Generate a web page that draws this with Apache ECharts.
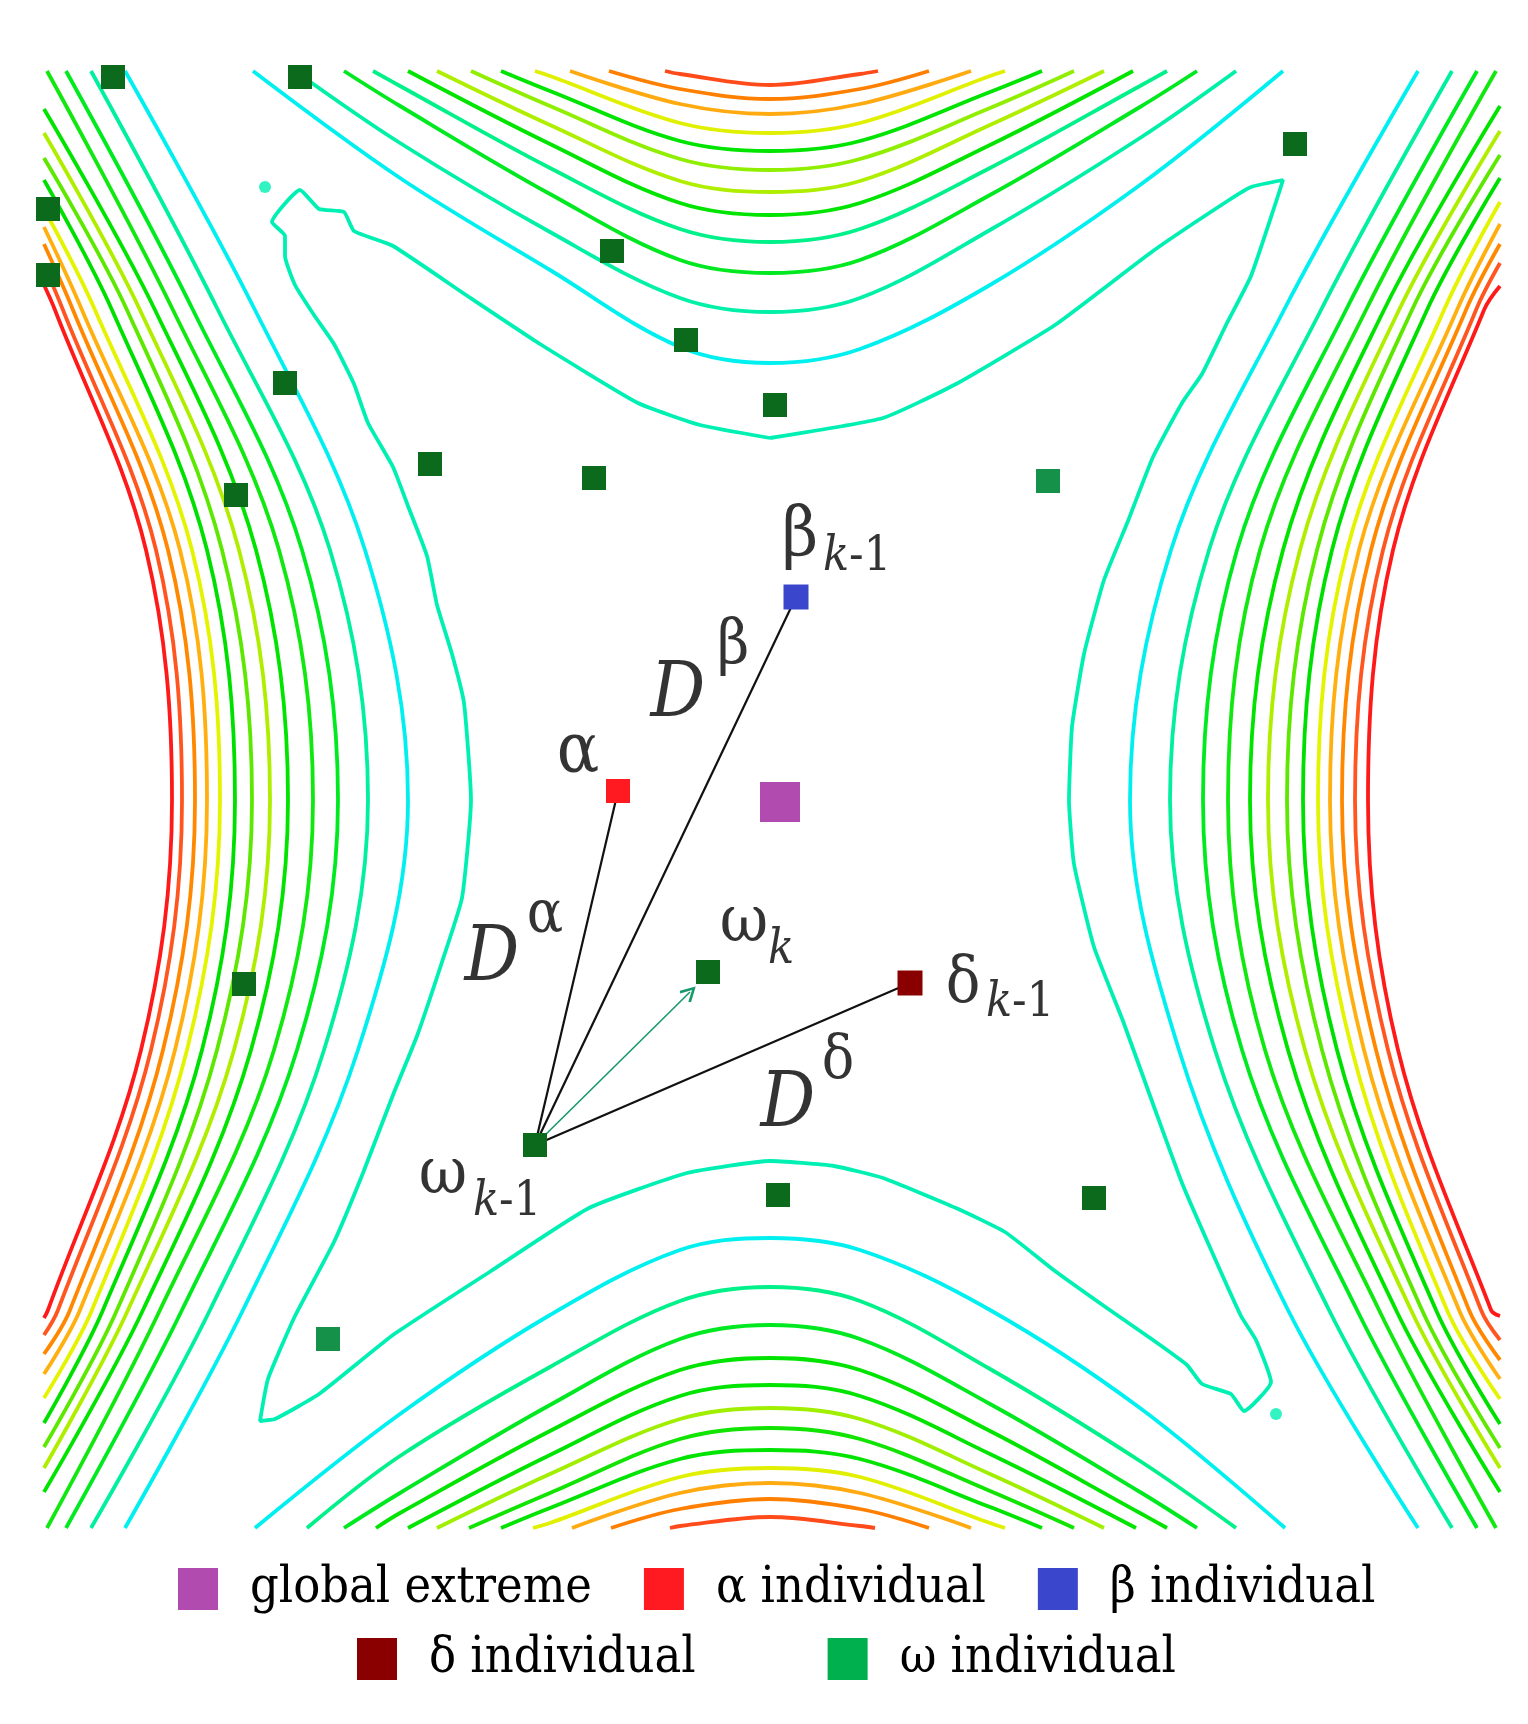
<!DOCTYPE html>
<html>
<head>
<meta charset="utf-8">
<title>Wolf positions on a saddle contour map</title>
<script src="https://cdn.jsdelivr.net/npm/echarts@6/dist/echarts.min.js"></script>
<style>
  html, body { margin: 0; padding: 0; background: #fff; }
  #chart { width: 1528px; height: 1724px; }
</style>
</head>
<body>
<div id="chart"></div>
<script>
// the picture has no axes, so positions are kept in image units
const X_MIN = 44, X_MAX = 1500, Y_MIN = 71, Y_MAX = 1528
const SERIF = 'DejaVu Serif Condensed, DejaVu Serif'

// ---- left / right contour families (outer red line first, cyan last) ----
// x of each line read at fixed heights
const sideHeights = [310, 550, 800, 1050, 1310]
const sideColors = ['#ff1a1a', '#ff5520', '#ff8800', '#ffb010', '#e4f400', '#00e000', '#5ce800',
  '#b0ee00', '#00e400', '#10e810', '#00ea20', '#00f0a0', '#00f0f0']

const leftAt310 = [55, 63, 73, 82, 95, 112, 127, 140, 155, 173, 193, 218, 255]
const leftAt550 = [146, 156, 168, 180, 192, 207, 222, 239, 256, 279, 302, 330, 365]
const leftAt800 = [172, 182, 195, 207, 220, 235, 252, 270, 288, 313, 338, 368, 408]
const leftAt1050 = [141, 151, 163, 175, 187, 202, 217, 234, 251, 274, 297, 324, 358]
const leftAt1310 = [48, 58, 70, 80, 92, 103, 117, 128, 143, 160, 182, 210, 243]
// where each line leaves the frame: through the side (y) or through top/bottom (x)
const leftTopExitY = [285, 265, 244, 227, 209, 180, 158, 133, 109, null, null, null, null]
const leftTopExitX = [null, null, null, null, null, null, null, null, null, 47, 66, 91, 125]
const leftBottomExitY = [1318, 1335, 1354, 1374, 1398, 1423, 1447, 1468, 1492, null, null, null, null]
const leftBottomExitX = [null, null, null, null, null, null, null, null, null, 47, 66, 91, 125]

const rightAt310 = [1484, 1476, 1466, 1457, 1444, 1427, 1412, 1399, 1384, 1366, 1346, 1321, 1284]
const rightAt550 = [1393, 1383, 1371, 1359, 1347, 1332, 1317, 1300, 1283, 1260, 1237, 1209, 1171]
const rightAt800 = [1368, 1355, 1342, 1330, 1318, 1303, 1287, 1268, 1250, 1228, 1203, 1170, 1130]
const rightAt1050 = [1398, 1388, 1376, 1364, 1352, 1337, 1322, 1305, 1288, 1265, 1242, 1215, 1179]
const rightAt1310 = [1491, 1481, 1469, 1459, 1447, 1436, 1422, 1411, 1396, 1379, 1357, 1329, 1288]
const rightTopExitY = [286, 263, 244, 224, 202, 178, 155, 131, 106, null, null, null, null]
const rightTopExitX = [null, null, null, null, null, null, null, null, null, 1496, 1477, 1452, 1418]
const rightBottomExitY = [1316, 1340, 1360, 1379, 1399, 1424, 1448, 1468, 1492, null, null, null, null]
const rightBottomExitX = [null, null, null, null, null, null, null, null, null, 1496, 1477, 1452, 1418]

// ---- top / bottom contour families (outer line first, cyan last) ----
// y of each line read at fixed x positions
const capXs = [400, 550, 680, 770, 860, 990, 1140]
const topColors = ['#ff4a1a', '#ff8000', '#ffaa10', '#e0f000', '#00e400', '#90ee00', '#b0ee00',
  '#00e400', '#00f08a', '#00e820', '#00f0a8', '#00f0f0']
const topLeftX = [665, 609, 570, 535, 501, 471, 437, 408, 373, 344, 295, 253]
const topRightX = [878, 929, 971, 1005, 1042, 1074, 1104, 1133, 1167, 1197, 1236, 1283]
const topAt400 = [null, null, null, null, null, null, null, null, 86, 106, 143, 178]
const topAt550 = [null, null, null, 76, 91, 106, 125, 144, 168, 194, 232, 270]
const topAt680 = [74, 89, 104, 123, 141, 159, 181, 203, 229, 260, 298, 347]
const topAt770 = [85, 99, 114, 133, 151, 170, 192, 215, 242, 273, 312, 363]
const topAt860 = [74, 89, 104, 123, 141, 159, 181, 203, 229, 260, 298, 349]
const topAt990 = [null, null, null, 76, 92, 108, 125, 145, 168, 195, 230, 285]
const topAt1140 = [null, null, null, null, null, null, null, null, 86, 107, 138, 185]

const bottomColors = ['#ff4a1a', '#ff8000', '#ffaa10', '#e0f000', '#00e400', '#10e400', '#a0ee00',
  '#00e400', '#00e400', '#00e820', '#00f08a', '#00f0f0']
const bottomLeftX = [670, 611, 572, 533, 501, 469, 437, 408, 376, 344, 307, 255]
const bottomRightX = [875, 929, 971, 1005, 1042, 1074, 1104, 1136, 1167, 1197, 1236, 1285]
const bottomAt400 = [null, null, null, null, null, null, null, null, 1513, 1493, 1456, 1414]
const bottomAt550 = [null, null, null, 1523, 1508, 1493, 1474, 1455, 1431, 1405, 1367, 1315]
const bottomAt680 = [1526, 1509, 1493, 1477, 1459, 1439, 1419, 1396, 1370, 1339, 1301, 1250]
const bottomAt770 = [1517, 1499, 1483, 1468, 1450, 1428, 1408, 1385, 1358, 1325, 1287, 1238]
const bottomAt860 = [1526, 1509, 1493, 1477, 1459, 1439, 1419, 1396, 1370, 1339, 1301, 1250]
const bottomAt990 = [null, null, null, 1523, 1507, 1491, 1474, 1454, 1431, 1404, 1369, 1310]
const bottomAt1140 = [null, null, null, null, null, null, null, null, 1513, 1492, 1461, 1408]

// closed inner contour round the central basin, and two tiny islands
const innerLoop = [
  [770, 438], [700, 425], [638, 403], [540, 344], [466, 295], [393, 246], [354, 231], [344, 212], [319, 209], [300, 190],
  [272, 222], [285, 236], [285, 256], [295, 285], [314, 315], [334, 344], [354, 384], [368, 423], [393, 467], [408, 506],
  [427, 556], [437, 605], [452, 654], [464, 703], [471, 800], [462, 898], [442, 962], [417, 1036], [393, 1095], [363, 1173],
  [334, 1242], [295, 1316], [268, 1379], [260, 1421], [275, 1419], [319, 1394], [393, 1335], [491, 1271], [589, 1208], [687, 1173],
  [770, 1161], [834, 1166], [883, 1178], [956, 1208], [1005, 1232], [1055, 1271], [1104, 1306], [1153, 1340], [1187, 1365], [1202, 1384],
  [1231, 1394], [1244, 1411], [1271, 1382], [1256, 1340], [1241, 1316], [1212, 1252], [1182, 1183], [1153, 1104], [1123, 1021], [1094, 947],
  [1074, 864], [1069, 800], [1072, 727], [1084, 654], [1104, 580], [1128, 521], [1153, 457], [1182, 403], [1202, 374], [1226, 325],
  [1251, 276], [1276, 202], [1283, 180], [1251, 187], [1226, 202], [1153, 251], [1055, 325], [956, 384], [883, 418], [770, 438]
]
const islands = [[265, 187], [1276, 1414]]

// ---- wolves ----
const omegaPoints = [[113, 77], [300, 77], [48, 209], [48, 275], [612, 251], [686, 340], [775, 405], [1295, 144],
  [285, 383], [430, 464], [594, 478], [236, 495], [244, 984], [708, 972], [535, 1145], [778, 1195], [1094, 1198]]
const omegaPale = [[1048, 481], [328, 1339]]
const alpha = [618, 791]
const beta = [796, 597]
const delta = [910, 983]
const globalExtreme = [780, 802]
const omegaPrev = [535, 1145]
const stepTip = [690, 992]

// ---- annotations ----
const labelText = ['β', 'k-1', 'D', 'β', 'α', 'D', 'α', 'ω', 'k', 'δ', 'k-1', 'D', 'δ', 'ω', 'k-1']
const labelX = [800, 857, 678, 733, 578, 492, 545, 744, 781, 963, 1020, 788, 838, 443, 507]
const labelY = [538, 558, 696, 647, 753, 960, 916, 924, 951, 984, 1004, 1106, 1062, 1176, 1203]
const labelSize = [70, 48, 76, 62, 70, 76, 60, 66, 48, 64, 48, 76, 60, 66, 48]

const legendRow1 = ['global extreme', 'α individual', 'β individual']
const legendRow1Colors = ['#b14bb0', '#ff1a22', '#3a46cc']
const legendRow2 = ['δ individual', 'ω individual']
const legendRow2Colors = ['#8a0000', '#00b04f']

function contour(points, color, smooth) {
  return {
    type: 'line',
    data: points,
    showSymbol: false,
    symbol: 'none',
    smooth: smooth,
    silent: true,
    z: 1,
    lineStyle: { color: color, width: 3.8 },
    animation: false
  }
}

function sideLine(i, cols, topY, topX, botY, botX, edgeX) {
  const pts = []
  pts.push(topY[i] != null ? [edgeX, topY[i]] : [topX[i], Y_MIN])
  sideHeights.forEach((y, k) => pts.push([cols[k][i], y]))
  pts.push(botY[i] != null ? [edgeX, botY[i]] : [botX[i], Y_MAX])
  return pts
}

function capLine(i, rows, leftX, rightX, edgeY) {
  const pts = [[leftX[i], edgeY]]
  capXs.forEach((x, k) => {
    const v = rows[k][i]
    if (v != null && x > leftX[i] && x < rightX[i]) pts.push([x, v])
  })
  pts.push([rightX[i], edgeY])
  return pts
}

const series = []

const leftCols = [leftAt310, leftAt550, leftAt800, leftAt1050, leftAt1310]
const rightCols = [rightAt310, rightAt550, rightAt800, rightAt1050, rightAt1310]
sideColors.forEach((c, i) => {
  series.push(contour(sideLine(i, leftCols, leftTopExitY, leftTopExitX, leftBottomExitY, leftBottomExitX, X_MIN), c, 0.35))
  series.push(contour(sideLine(i, rightCols, rightTopExitY, rightTopExitX, rightBottomExitY, rightBottomExitX, X_MAX), c, 0.35))
})

const topRows = [topAt400, topAt550, topAt680, topAt770, topAt860, topAt990, topAt1140]
topColors.forEach((c, i) => series.push(contour(capLine(i, topRows, topLeftX, topRightX, Y_MIN), c, 0.35)))

const bottomRows = [bottomAt400, bottomAt550, bottomAt680, bottomAt770, bottomAt860, bottomAt990, bottomAt1140]
bottomColors.forEach((c, i) => series.push(contour(capLine(i, bottomRows, bottomLeftX, bottomRightX, Y_MAX), c, 0.35)))

series.push(contour(innerLoop, '#00f0b4', 0.15))

series.push({
  type: 'scatter',
  data: islands,
  symbol: 'circle',
  symbolSize: 12,
  silent: true,
  z: 1,
  itemStyle: { color: '#00f0b4' }
})

// distances from omega(k-1) to the three leaders
series.push({
  type: 'lines',
  coordinateSystem: 'cartesian2d',
  data: [alpha, beta, delta].map(p => ({ coords: [omegaPrev, p] })),
  lineStyle: { color: '#111', width: 2.2, opacity: 1 },
  symbol: 'none',
  silent: true,
  z: 3
})

// step of omega towards omega(k)
series.push({
  type: 'lines',
  coordinateSystem: 'cartesian2d',
  data: [{ coords: [omegaPrev, stepTip] }],
  lineStyle: { color: '#17996a', width: 1.6, opacity: 1 },
  symbol: ['none', 'path://M5,0 L10,9 L8.6,10 L5,3.2 L1.4,10 L0,9 Z'],
  symbolSize: [14, 16],
  silent: true,
  z: 3
})

function pointSeries(name, data, color, size) {
  return {
    name: name,
    type: 'scatter',
    data: data,
    symbol: 'rect',
    symbolSize: size,
    itemStyle: { color: color, opacity: 1 },
    silent: true,
    z: 4
  }
}

series.push(pointSeries('ω individual', omegaPoints, '#0b6a1c', 24))
series.push(pointSeries('ω pale', omegaPale, '#16914a', 24))
series.push(pointSeries('global extreme', [globalExtreme], '#b14bb0', 40))
series.push(pointSeries('α individual', [alpha], '#ff1a22', 24))
series.push(pointSeries('β individual', [beta], '#3a46cc', 25))
series.push(pointSeries('δ individual', [delta], '#8a0000', 25))

function richLabel(text) {
  return text.replace(/([kD])|([^kD]+)/g, (m, lat, rest) => lat ? '{i|' + lat + '}' : '{n|' + rest + '}')
}

series.push({
  type: 'scatter',
  symbolSize: 0,
  silent: true,
  z: 5,
  data: labelText.map((t, i) => ({
    value: [labelX[i], labelY[i]],
    label: {
      show: true,
      position: 'inside',
      fontFamily: SERIF,
      formatter: richLabel(t),
      rich: {
        i: { fontFamily: SERIF, fontStyle: 'italic', fontSize: labelSize[i], color: '#000' },
        n: { fontFamily: SERIF, fontSize: labelSize[i], color: '#000' }
      }
    }
  }))
})

const legendText = { fontFamily: SERIF, fontSize: 50, color: '#000', padding: [0, 0, 0, 27] }
function legendRow(names, colors, left, top, gap) {
  return {
    left: left, top: top, width: 1400, orient: 'horizontal', icon: 'rect',
    itemWidth: 40, itemHeight: 42, itemGap: gap, selectedMode: false, textStyle: legendText,
    data: names.map((n, i) => ({ name: n, itemStyle: { color: colors[i] } }))
  }
}

const chart = echarts.init(document.getElementById('chart'), null, { renderer: 'canvas' })
chart.setOption({
  backgroundColor: '#fff',
  animation: false,
  textStyle: { fontFamily: SERIF },
  grid: { left: X_MIN, top: Y_MIN, width: X_MAX - X_MIN, height: Y_MAX - Y_MIN, containLabel: false, outerBoundsMode: 'none' },
  xAxis: { type: 'value', min: X_MIN, max: X_MAX, show: false },
  yAxis: { type: 'value', min: Y_MIN, max: Y_MAX, inverse: true, show: false },
  legend: [
    legendRow(legendRow1, legendRow1Colors, 173, 1559, 52),
    legendRow(legendRow2, legendRow2Colors, 352, 1629, 132)
  ],
  series: series
})
</script>
</body>
</html>
